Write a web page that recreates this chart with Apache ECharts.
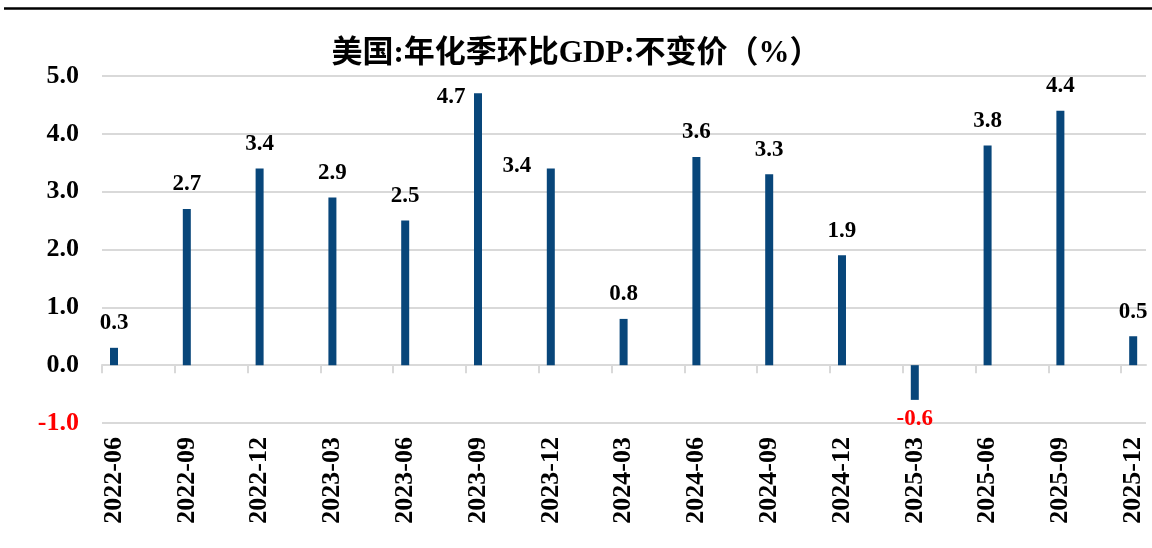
<!DOCTYPE html>
<html>
<head>
<meta charset="utf-8">
<title>美国:年化季环比GDP:不变价</title>
<script src="https://cdn.jsdelivr.net/npm/echarts@6/dist/echarts.min.js"></script>
<style>
  html, body { margin: 0; padding: 0; background: #fff; }
  #chart { width: 1152px; height: 548px; }
</style>
</head>
<body>
<div id="chart"></div>
<script>
// 季度
var quarters = ['2022-06', '2022-09', '2022-12', '2023-03', '2023-06', '2023-09', '2023-12', '2024-03',
    '2024-06', '2024-09', '2024-12', '2025-03', '2025-06', '2025-09', '2025-12'];
// 年化季环比 (%)
var gdpQoq = [0.3, 2.7, 3.4, 2.9, 2.5, 4.7, 3.4, 0.8, 3.6, 3.3, 1.9, -0.6, 3.8, 4.4, 0.5];
// y轴刻度
var yTicks = [-1, 0, 1, 2, 3, 4, 5];

var serifFont = '"Liberation Serif", "Times New Roman", "Noto Sans CJK SC", serif';
var barColor = '#08467a';

// 手动挪开的标签
var labelShift = { '2023-09': [-27, 28], '2023-12': [-34, 22] };

var xMin = -0.165, xMax = 14.176;
var idx = quarters.map(function (q, i) { return i; });
var tickPos = idx.map(function (i) { return i + xMin; });

var seriesData = gdpQoq.map(function (v, i) {
    var item = { value: [i, v] };
    if (v < 0) {
        item.label = { position: 'bottom', distance: 8, color: '#ff0000' };
    } else if (labelShift[quarters[i]]) {
        item.label = { offset: labelShift[quarters[i]] };
    }
    return item;
});

var chart = echarts.init(document.getElementById('chart'), null, { renderer: 'canvas' });
var option = {
    animation: false,
    backgroundColor: '#ffffff',
    title: {
        text: '美国:年化季环比GDP:不变价（%）',
        left: 'center',
        top: 33,
        textStyle: { fontFamily: serifFont, fontSize: 31, fontWeight: 'bold', color: '#000' }
    },
    grid: { left: 102, right: 6, top: 76, bottom: 125, containLabel: false },
    xAxis: [{
        type: 'value',
        min: xMin,
        max: xMax,
        position: 'bottom',
        axisLine: { show: false, onZero: false },
        axisTick: { show: false },
        splitLine: { show: false },
        axisLabel: {
            customValues: idx,
            rotate: 90,
            margin: 14,
            fontFamily: serifFont,
            fontSize: 26,
            fontWeight: 'bold',
            color: '#000',
            formatter: function (v) { return quarters[Math.round(v)] || ''; }
        }
    }, {
        type: 'value',
        min: xMin,
        max: xMax,
        position: 'top',
        axisLine: { show: true, onZero: true, lineStyle: { color: '#d9d9d9', width: 2 } },
        axisTick: { show: true, inside: true, length: 8, customValues: tickPos, lineStyle: { color: '#d9d9d9', width: 2 } },
        axisLabel: { show: false },
        splitLine: { show: false }
    }],
    yAxis: {
        type: 'value',
        min: yTicks[0],
        max: yTicks[yTicks.length - 1],
        interval: 1,
        axisLine: { show: false },
        axisTick: { show: false },
        splitLine: { show: true, lineStyle: { color: '#d9d9d9', width: 2 } },
        axisLabel: {
            margin: 23,
            fontFamily: serifFont,
            fontSize: 26,
            fontWeight: 'bold',
            color: function (v) { return Number(v) < 0 ? '#ff0000' : '#000000'; },
            formatter: function (v) { return Number(v).toFixed(1); }
        }
    },
    series: [{
        type: 'bar',
        xAxisIndex: 0,
        barWidth: 8,
        data: seriesData,
        itemStyle: { color: barColor },
        label: {
            show: true,
            position: 'top',
            distance: 13,
            fontFamily: serifFont,
            fontSize: 23,
            fontWeight: 'bold',
            color: '#000',
            formatter: function (p) { return p.value[1].toFixed(1); }
        }
    }],
    graphic: [{
        type: 'line',
        shape: { x1: 4, y1: 8.5, x2: 1152, y2: 8.5 },
        style: { stroke: '#000', lineWidth: 2.5 }
    }]
};
chart.setOption(option);
</script>
</body>
</html>
